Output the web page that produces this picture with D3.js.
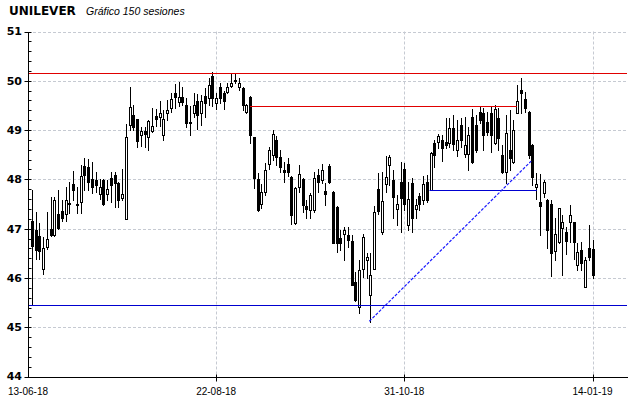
<!DOCTYPE html>
<html>
<head>
<meta charset="utf-8">
<script src="https://cdn.jsdelivr.net/npm/d3@7"></script>
<style>
  html, body { margin: 0; padding: 0; background: #fff; }
  svg { display: block; }
</style>
</head>
<body>
<div id="chart"></div>
<script>
// -----
// UNILEVER - 150 session candlestick chart
// -----

const title = "UNILEVER";
const subtitle = "Gráfico 150 sesiones";

// session index of the x tick labels (-1 = chart origin)
const tickIdx = [-1, 49, 99, 149];
const tickLabels = ["13-06-18", "22-08-18", "31-10-18", "14-01-19"];
const yTicks = [44, 45, 46, 47, 48, 49, 50, 51];

const open = [
  47.15,46.97,46.85,46.19,46.63,47.00,46.88,47.29,47.36,47.29,
  47.52,47.90,47.51,47.55,48.27,48.26,48.00,47.99,47.70,47.99,
  47.70,48.02,48.09,47.92,47.63,47.19,49.10,49.31,49.22,48.89,
  48.98,48.85,48.99,49.29,49.26,48.89,49.35,49.44,49.76,49.56,
  49.67,49.51,49.17,49.35,49.58,49.34,49.69,49.65,50.10,49.54,
  49.88,49.76,49.78,49.90,50.02,49.88,49.86,49.37,49.68,48.85,
  48.00,47.51,47.75,48.31,48.49,48.80,48.46,48.19,48.31,48.05,
  47.11,47.84,48.00,47.46,47.38,47.38,48.09,47.99,47.77,48.28,
  47.75,47.44,46.82,46.90,46.87,46.75,45.92,45.41,46.19,46.37,
  45.65,46.19,47.80,46.93,47.91,48.29,47.99,47.39,47.95,48.21,
  47.07,47.92,47.39,47.66,47.59,47.95,47.78,48.73,48.76,48.80,
  48.76,48.73,49.04,48.60,49.10,48.51,48.51,49.27,49.10,49.37,
  49.34,49.17,49.34,48.74,49.24,48.49,48.15,48.60,48.36,49.34,
  49.82,49.63,49.37,48.70,47.85,47.55,47.72,47.59,47.51,46.55,
  46.73,47.02,46.93,47.14,47.13,46.27,46.56,45.82,46.60,46.58
];
const high = [
  47.78,47.34,47.11,46.83,47.34,47.65,47.65,47.78,47.58,47.85,
  47.95,48.17,47.85,48.29,48.43,48.41,48.36,48.15,48.00,48.00,
  47.99,48.15,48.15,47.95,48.20,49.12,49.87,49.51,49.22,49.06,
  49.07,49.21,49.44,49.42,49.58,49.41,49.60,49.75,49.94,49.97,
  49.87,49.65,49.48,49.75,49.73,49.71,49.85,50.05,50.17,49.75,
  49.95,49.80,49.95,50.15,50.15,50.06,49.87,49.52,49.70,48.86,
  48.12,47.90,48.33,48.66,49.00,48.87,48.60,48.36,48.43,48.06,
  47.85,48.29,48.02,47.58,47.72,48.15,48.22,48.31,47.93,48.32,
  47.76,47.45,46.97,47.04,47.04,46.87,46.12,46.36,46.90,46.50,
  46.50,47.45,48.12,48.14,48.48,48.49,48.19,47.68,48.35,48.33,
  47.95,48.02,47.61,47.72,48.07,48.09,48.56,48.80,48.93,48.90,
  49.24,49.24,49.31,49.21,49.24,49.27,49.07,49.42,49.31,49.49,
  49.44,49.37,49.46,49.51,49.44,48.70,49.31,49.41,49.21,49.92,
  50.05,49.78,49.38,48.71,48.12,48.11,47.99,47.60,47.58,47.21,
  47.41,47.27,47.04,47.48,47.14,46.70,46.73,46.43,47.07,46.77
];
const low = [
  45.48,46.39,46.39,46.07,46.58,46.85,46.85,47.00,47.15,47.15,
  47.31,47.58,47.31,47.31,47.78,47.78,47.72,47.75,47.60,47.48,
  47.58,47.54,47.44,47.43,47.58,47.19,49.00,49.00,48.66,48.68,
  48.66,48.60,48.97,49.08,49.08,48.80,49.21,49.37,49.44,49.49,
  49.50,49.06,48.89,49.27,49.02,49.10,49.27,49.51,49.48,49.42,
  49.54,49.42,49.76,49.88,49.95,49.81,49.41,49.34,48.73,47.83,
  47.36,47.41,47.68,48.22,48.39,48.29,48.15,47.94,48.07,47.09,
  47.09,47.75,47.34,47.21,47.21,47.34,47.75,47.92,47.48,47.92,
  46.71,46.53,46.56,46.36,46.63,45.85,45.53,45.28,46.02,45.99,
  45.11,46.19,47.30,46.90,47.75,47.88,47.21,47.07,46.93,47.38,
  46.97,46.93,47.21,47.38,47.51,47.55,47.78,48.26,48.63,48.37,
  48.63,48.66,48.60,48.48,48.66,48.46,48.19,48.33,48.56,49.14,
  48.60,48.90,48.56,48.72,48.60,48.12,47.92,48.19,48.33,49.34,
  49.34,49.37,48.43,47.88,47.61,46.87,47.65,46.60,46.03,46.36,
  46.70,46.05,46.48,46.73,46.38,46.16,46.16,45.82,46.36,45.99
];
const close = [
  46.65,46.56,46.54,46.60,46.80,46.87,47.58,47.02,47.22,47.59,
  47.49,47.78,47.49,48.07,48.09,47.95,47.85,47.88,47.85,47.51,
  47.80,47.88,47.93,47.58,47.70,48.85,49.46,49.07,48.78,48.98,
  48.93,49.18,49.08,49.23,49.34,49.22,49.40,49.63,49.67,49.68,
  49.56,49.15,49.14,49.51,49.31,49.59,49.54,49.92,49.66,49.66,
  49.66,49.59,49.88,49.95,50.00,49.95,49.51,49.51,48.90,48.02,
  47.38,47.75,48.19,48.60,48.93,48.46,48.26,48.15,48.15,47.27,
  47.83,48.10,47.48,47.39,47.68,48.02,47.95,48.19,47.70,47.95,
  46.71,46.71,46.71,46.97,46.77,45.85,45.55,46.16,46.83,46.42,
  46.05,47.34,47.36,47.56,48.05,48.46,47.65,47.51,47.63,47.51,
  47.61,47.21,47.48,47.51,47.90,47.58,48.53,48.49,48.87,48.63,
  48.70,49.05,48.71,48.80,48.80,48.70,48.91,48.36,48.60,49.21,
  48.90,48.97,48.90,49.42,48.83,48.15,48.95,48.43,49.00,49.58,
  49.75,49.44,48.49,48.05,47.90,47.45,47.95,46.98,46.50,46.89,
  47.41,47.13,46.75,47.27,46.73,46.52,46.30,46.36,46.43,46.05
];

// drawn studies: full width levels, partial levels, trend line
const fullLevels = [{ v: 50.15, color: "#e00000" }, { v: 45.45, color: "#0000d0" }];
const segLevels = [
  { from: 58, to: 128.9, v: 49.49, color: "#e00000" },
  { from: 105.7, to: 134.2, v: 47.78, color: "#0000d0" }
];
const trendLine = [[89.7, 45.12], [132.7, 48.37]];

const width = 640, height = 398;
const plot = { left: 28, right: 627, top: 31.5, bottom: 376.5 };

const candles = open.map((o, i) => ({ i, o, h: high[i], l: low[i], c: close[i] }));

const x = d3.scaleLinear().domain([-1, 149]).range([plot.left, 592.5]);
const y = d3.scaleLinear().domain([44, 51]).range([plot.bottom, plot.top]);
const px = v => Math.round(v) + 0.5;

const svg = d3.select("#chart").append("svg")
  .attr("width", width)
  .attr("height", height)
  .style("font-family", "'DejaVu Sans', sans-serif");

// Title
svg.append("text")
  .attr("x", 9).attr("y", 15)
  .attr("font-size", 12).attr("font-weight", "bold")
  .attr("fill", "#000")
  .text(title);
svg.append("text")
  .attr("x", 86).attr("y", 15)
  .attr("font-family", "'Liberation Sans', Arial, sans-serif")
  .attr("font-size", 10.5).attr("font-style", "italic")
  .attr("fill", "#000")
  .text(subtitle);

// Grid
const grid = svg.append("g")
  .attr("stroke", "#c6cad2")
  .attr("stroke-width", 1)
  .attr("stroke-dasharray", "3,2");
grid.selectAll("line.h")
  .data(yTicks.filter(t => t > 44))
  .join("line")
  .attr("class", "h")
  .attr("x1", plot.left).attr("x2", plot.right)
  .attr("y1", d => px(y(d))).attr("y2", d => px(y(d)));
grid.selectAll("line.v")
  .data(tickIdx.filter(t => t > -1))
  .join("line")
  .attr("class", "v")
  .attr("x1", d => px(x(d))).attr("x2", d => px(x(d)))
  .attr("y1", plot.top).attr("y2", plot.bottom);

// Axes
const axes = svg.append("g").attr("stroke", "#000").attr("stroke-width", 1);
axes.append("line")
  .attr("x1", px(plot.left)).attr("x2", px(plot.left))
  .attr("y1", px(y(51))).attr("y2", px(plot.bottom));
axes.append("line")
  .attr("x1", px(plot.left)).attr("x2", plot.right + 1)
  .attr("y1", px(plot.bottom)).attr("y2", px(plot.bottom));

// minor y ticks every 0.2
axes.selectAll("line.minor")
  .data(d3.range(44, 51.001, 0.2))
  .join("line")
  .attr("class", "minor")
  .attr("x1", px(plot.left)).attr("x2", px(plot.left) + 3)
  .attr("y1", d => px(y(d))).attr("y2", d => px(y(d)));
axes.selectAll("line.major")
  .data(yTicks)
  .join("line")
  .attr("class", "major")
  .attr("x1", px(plot.left) - 4).attr("x2", px(plot.left) + 1)
  .attr("y1", d => px(y(d))).attr("y2", d => px(y(d)));
axes.selectAll("line.xt")
  .data(tickIdx.filter(t => t > -1))
  .join("line")
  .attr("class", "xt")
  .attr("x1", d => px(x(d))).attr("x2", d => px(x(d)))
  .attr("y1", px(plot.bottom) - 3).attr("y2", px(plot.bottom) + 4);

svg.append("g")
  .selectAll("text")
  .data(yTicks)
  .join("text")
  .attr("x", 22)
  .attr("y", d => y(d))
  .attr("dy", "0.36em")
  .attr("text-anchor", "end")
  .attr("font-size", 11).attr("font-weight", "bold")
  .text(d => d);

svg.append("g")
  .selectAll("text")
  .data(tickIdx)
  .join("text")
  .attr("x", d => x(d))
  .attr("y", 395)
  .attr("text-anchor", "middle")
  .attr("font-family", "'Liberation Sans', Arial, sans-serif")
  .attr("font-size", 10)
  .text((d, k) => tickLabels[k]);

// Candles
const cg = svg.append("g").attr("stroke", "#000").attr("stroke-width", 1);
cg.selectAll("line.wick")
  .data(candles)
  .join("line")
  .attr("class", "wick")
  .attr("x1", d => px(x(d.i))).attr("x2", d => px(x(d.i)))
  .attr("y1", d => Math.round(y(d.h))).attr("y2", d => Math.round(y(d.l)) + 1);
cg.selectAll("rect")
  .data(candles)
  .join("rect")
  .attr("x", d => Math.round(x(d.i)) - 0.5)
  .attr("width", 2)
  .attr("y", d => px(y(Math.max(d.o, d.c))))
  .attr("height", d => Math.max(1, Math.round(y(Math.min(d.o, d.c))) - Math.round(y(Math.max(d.o, d.c)))))
  .attr("fill", d => d.c >= d.o ? "#fff" : "#000");

// Studies
svg.append("g")
  .selectAll("line")
  .data(fullLevels)
  .join("line")
  .attr("x1", plot.left + 1).attr("x2", plot.right)
  .attr("y1", d => px(y(d.v))).attr("y2", d => px(y(d.v)))
  .attr("stroke", d => d.color);

svg.append("g")
  .selectAll("line")
  .data(segLevels)
  .join("line")
  .attr("x1", d => x(d.from)).attr("x2", d => x(d.to))
  .attr("y1", d => px(y(d.v))).attr("y2", d => px(y(d.v)))
  .attr("stroke", d => d.color);

svg.append("line")
  .attr("x1", x(trendLine[0][0])).attr("y1", y(trendLine[0][1]))
  .attr("x2", x(trendLine[1][0])).attr("y2", y(trendLine[1][1]))
  .attr("stroke", "#1a1aff")
  .attr("stroke-width", 1.2)
  .attr("stroke-dasharray", "3,1.5");
</script>
</body>
</html>
